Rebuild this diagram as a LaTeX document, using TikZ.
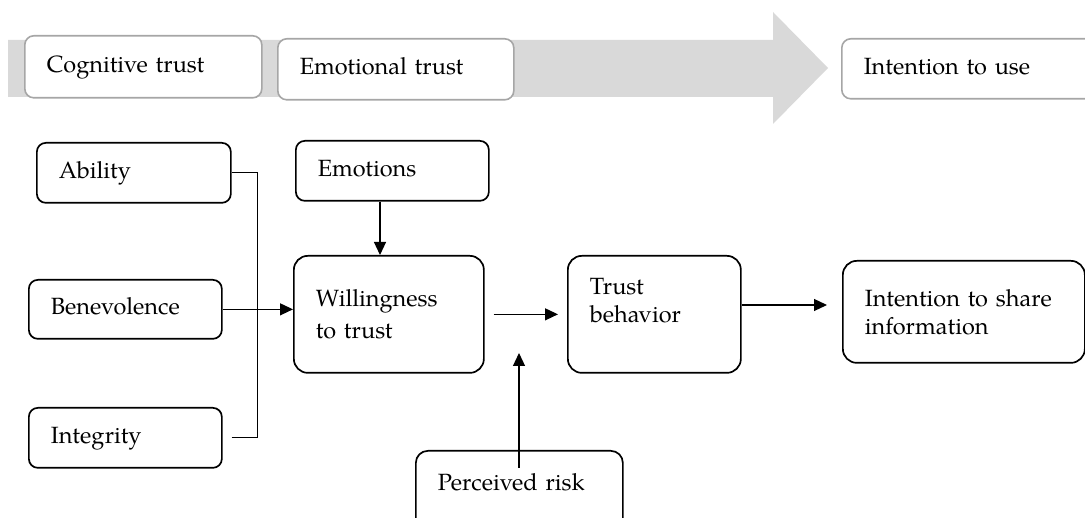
\documentclass[tikz,border=0pt]{standalone}
\usepackage{fontspec}
\setmainfont{texgyrepagella}[Extension=.otf, UprightFont=*-regular]
\usetikzlibrary{arrows.meta}

\definecolor{bandgray}{HTML}{D9D9D9}
\definecolor{framegray}{HTML}{A6A6A6}

\tikzset{
  txt/.style={font=\fontsize{23.5}{28}\selectfont},
  onetext/.style={text height=17pt, text depth=6pt},
  stagebox/.style={txt, onetext, draw=framegray, line width=1.6pt, fill=white,
    rounded corners=9pt, anchor=north west, inner xsep=20pt, inner ysep=0pt, align=left},
  factorbox/.style={txt, draw=black, line width=1.7pt, fill=white,
    rounded corners=9pt, anchor=north west, inner xsep=22pt, inner ysep=0pt, align=left},
  link/.style={line width=1.2pt},
  arr/.style={link, -{Triangle[length=13pt,width=12pt]}},
}

\newcommand{\boxat}[7]{% name, style, x, y, w, h, text
  \node[#2, minimum width=#5pt, minimum height=#6pt, text width=#5pt-44pt]
    (#1) at (#3,#4) {#7};}

\begin{document}
\begin{tikzpicture}[x=1pt,y=-1pt]
  \useasboundingbox (0,0) rectangle (1085,518);

  % broad process arrow behind the three stages
  \fill[bandgray] (8,40) -- (773,40) -- (773,12) -- (828,68) -- (773,124)
    -- (773,97) -- (8,97) -- cycle;

  % stages
  \boxat{cog}{stagebox}{24}{35}{237}{62}{Cognitive trust}
  \boxat{emo}{stagebox}{277}{38}{236}{61}{Emotional trust}
  \boxat{use}{stagebox}{841}{38}{300}{60}{Intention to use}

  % antecedents and model boxes
  \boxat{abil}{factorbox,onetext}{36}{142}{194}{60}{Ability}
  \boxat{bene}{factorbox,onetext}{28}{279}{193}{59}{Benevolence}
  \boxat{integ}{factorbox,onetext}{28}{407}{193}{60}{Integrity}
  \boxat{emot}{factorbox,onetext}{295}{140}{193}{60}{Emotions}
  \boxat{will}{factorbox, rounded corners=14pt}{293}{255}{190}{117}{Willingness\\[4pt]to trust}
  \boxat{trustb}{factorbox, rounded corners=14pt}{567}{255}{173}{117}{Trust\\behavior\\\mbox{}}
  \boxat{share}{factorbox, rounded corners=14pt}{842}{260}{242}{102}{Intention to share\\information}
  % the risk box runs on past the lower edge; its text sits near the top
  \boxat{risk}{factorbox, text height=17pt, text depth=37pt, rounded corners=12pt}{415}{450}{207}{100}{Perceived risk}

  % junction joining the three antecedents
  \coordinate (jn) at (257,313);
  \draw[link, line width=0.9pt] (abil.east) -| (jn);
  \draw[link, line width=0.9pt] ([xshift=9pt]integ.east) -| (jn);
  \draw[arr] (bene.east) -- (bene.east -| will.west);

  % emotions feed willingness
  \draw[arr] (emot.south -| 380,0) -- (will.north -| 380,0);

  % willingness to trust behavior, moderated by perceived risk
  \draw[arr] ([xshift=9pt]will.east) -- ([xshift=-9pt]trustb.west);
  \coordinate (riskend) at (519,353);
  \draw[arr] ([yshift=-18pt]risk.north -| riskend) -- (riskend);

  % trust behavior to intention to share
  \draw[arr] (trustb.east |- 0,305) -- ([xshift=-15pt]share.west |- 0,305);
\end{tikzpicture}
\end{document}
